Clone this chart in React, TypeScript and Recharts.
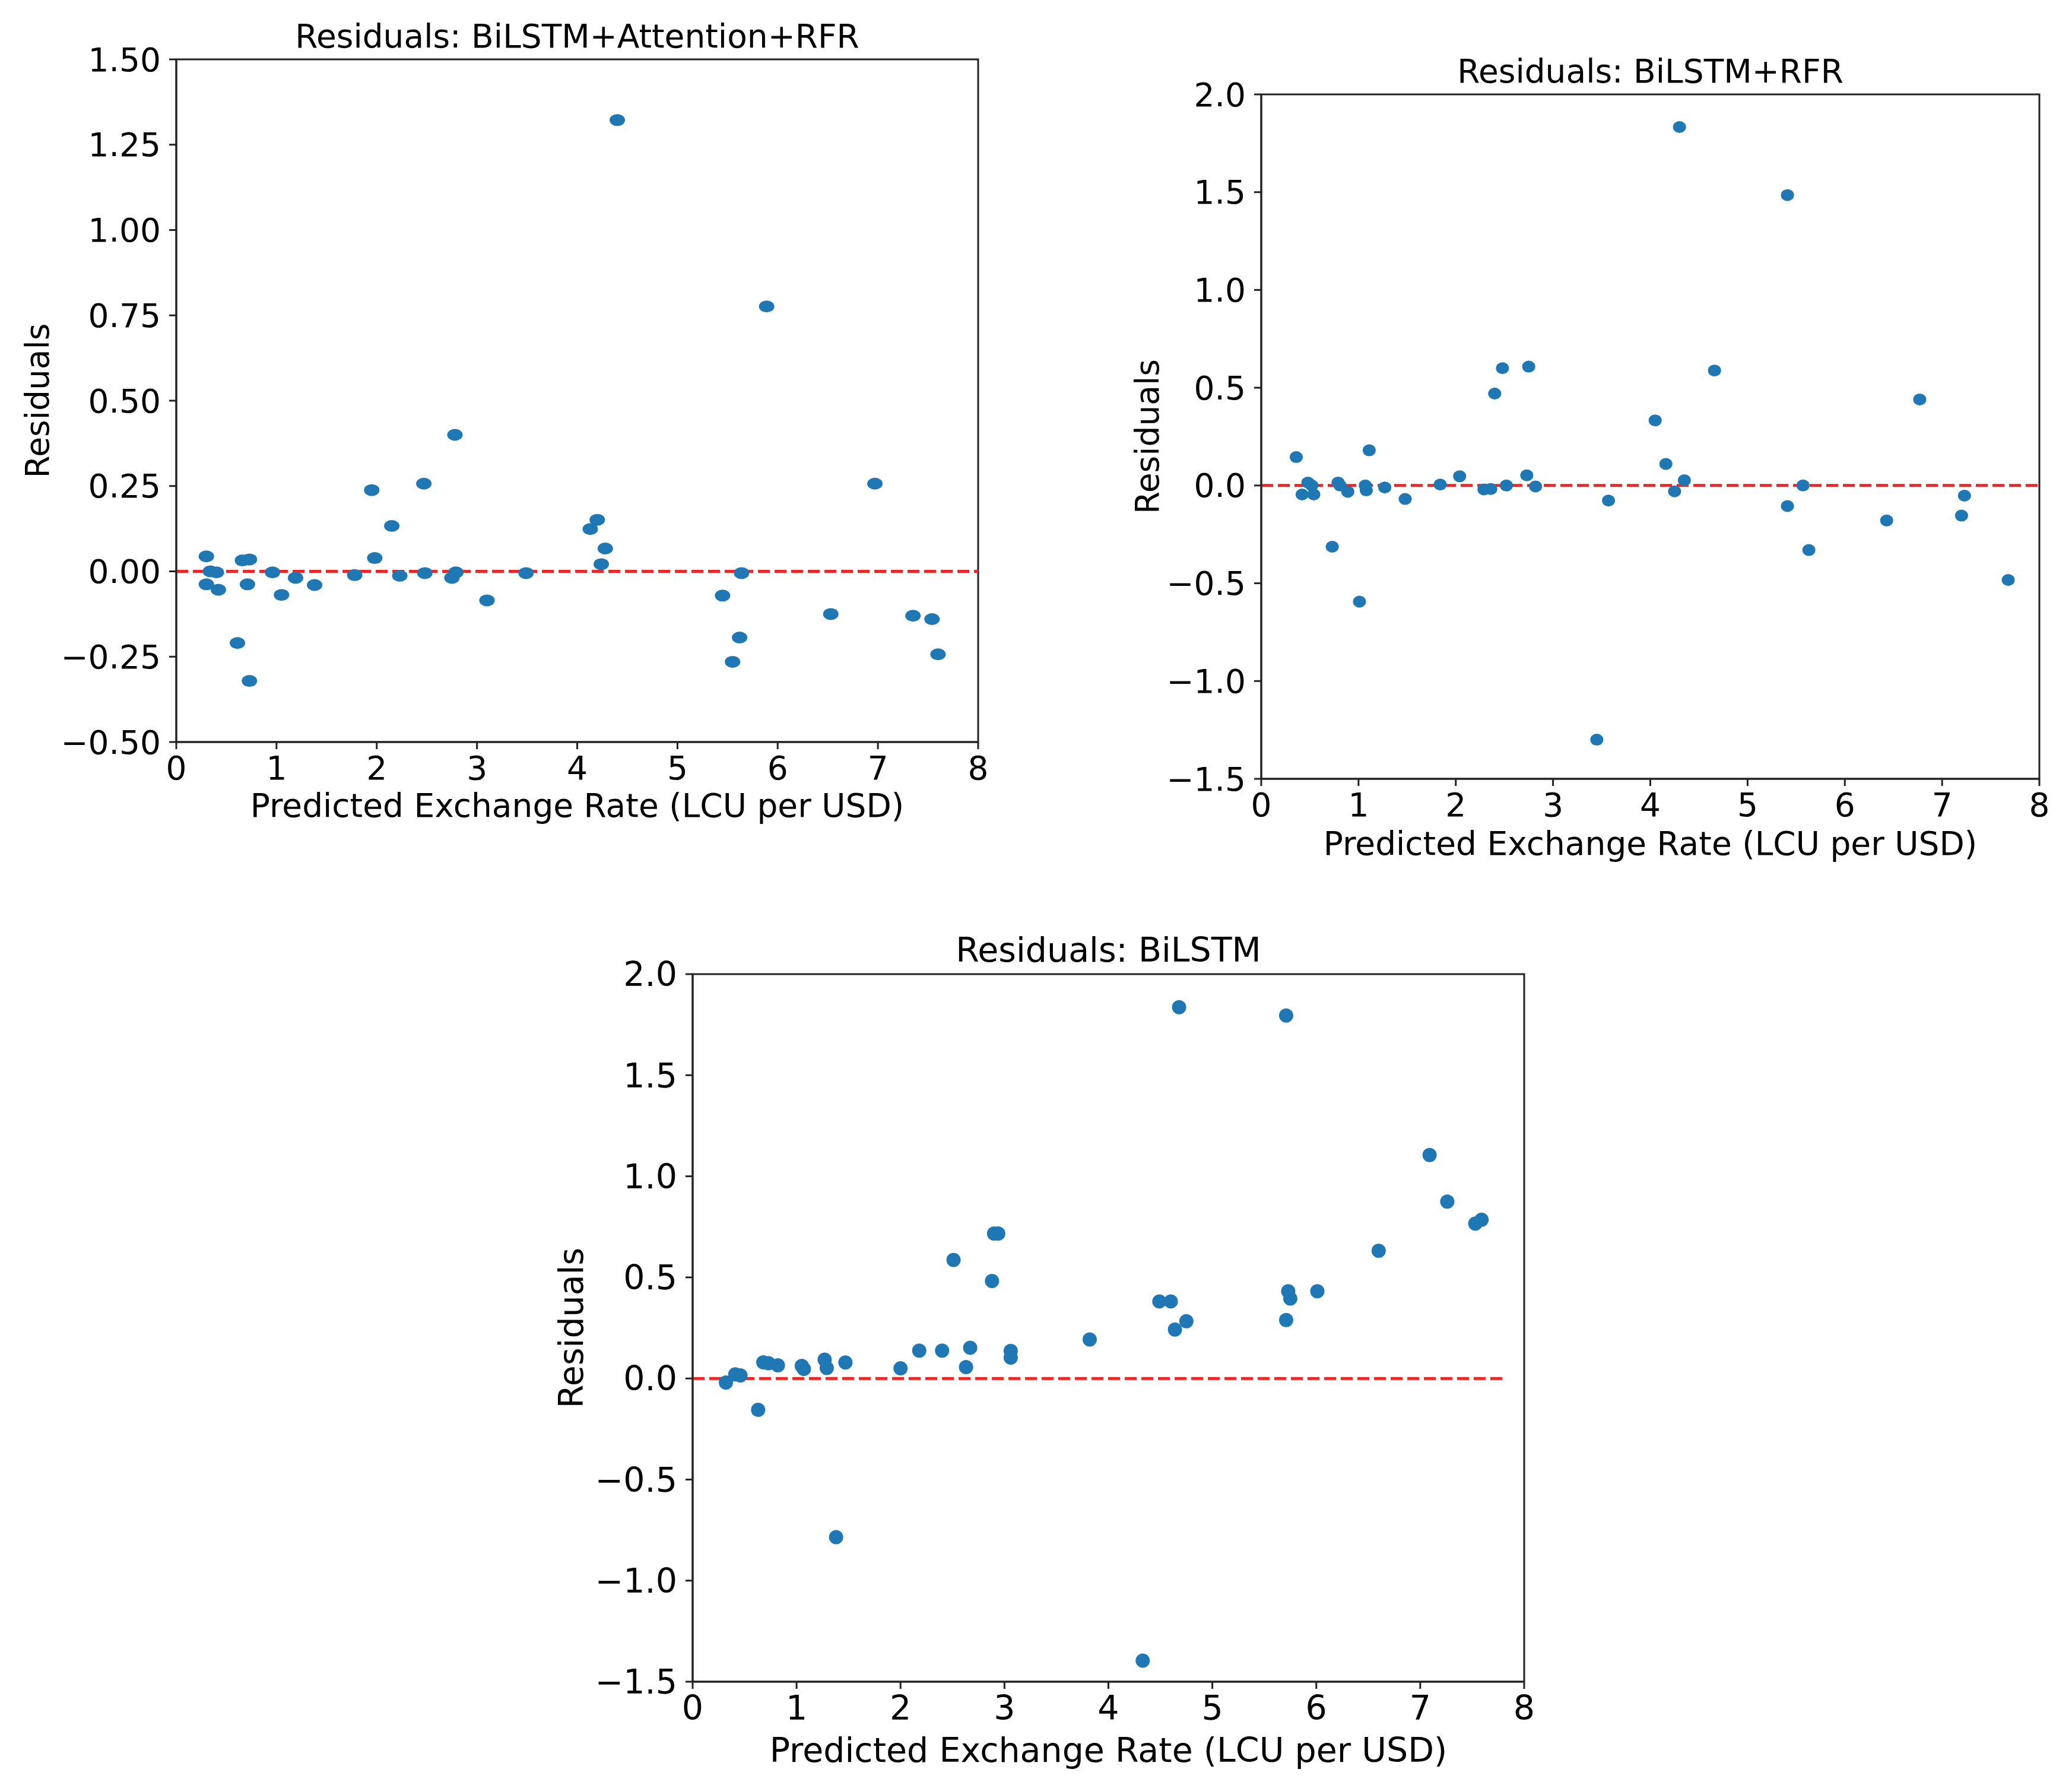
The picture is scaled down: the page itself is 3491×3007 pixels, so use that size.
import {
  ScatterChart,
  Scatter,
  XAxis,
  YAxis,
  ReferenceLine,
  ReferenceArea,
} from "recharts";

const xTicks = [0, 1, 2, 3, 4, 5, 6, 7, 8];
const attnTicks = [-0.5, -0.25, 0, 0.25, 0.5, 0.75, 1, 1.25, 1.5];
const rfrTicks = [-1.5, -1, -0.5, 0, 0.5, 1, 1.5, 2];

// BiLSTM+Attention+RFR
const attnPred = [
  0.3, 0.3, 0.34, 0.4, 0.42, 0.61, 0.66, 0.73, 0.71, 0.73, 0.96, 1.05, 1.19,
  1.38, 1.78, 1.95, 1.98, 2.15, 2.23, 2.47, 2.48, 2.78, 2.79, 2.75, 3.1, 3.49,
  4.13, 4.2, 4.28, 4.24, 4.4, 5.45, 5.55, 5.62, 5.64, 5.89, 6.53, 6.97, 7.35,
  7.54, 7.6,
];
const attnResid = [
  0.044, -0.038, 0.0, -0.003, -0.054, -0.21, 0.032, 0.035, -0.038, -0.321,
  -0.003, -0.069, -0.019, -0.04, -0.011, 0.238, 0.039, 0.133, -0.013, 0.257,
  -0.005, 0.4, -0.003, -0.019, -0.085, -0.005, 0.124, 0.151, 0.067, 0.021,
  1.322, -0.071, -0.265, -0.194, -0.005, 0.776, -0.125, 0.257, -0.13, -0.14,
  -0.243,
];

// BiLSTM+RFR
const rfrPred = [
  0.36, 0.42, 0.48, 0.52, 0.54, 0.73, 0.79, 0.81, 0.89, 1.01, 1.07, 1.08, 1.11,
  1.27, 1.48, 1.84, 2.04, 2.29, 2.36, 2.4, 2.48, 2.52, 2.73, 2.75, 2.82, 3.45,
  3.57, 4.05, 4.16, 4.25, 4.3, 4.35, 4.66, 5.41, 5.41, 5.57, 5.63, 6.43, 6.77,
  7.2, 7.23, 7.68,
];
const rfrResid = [
  0.145, -0.046, 0.015, 0.0, -0.046, -0.313, 0.015, 0.0, -0.032, -0.594, 0.0,
  -0.025, 0.18, -0.01, -0.069, 0.005, 0.047, -0.02, -0.018, 0.47, 0.6, 0.0,
  0.052, 0.608, -0.005, -1.3, -0.077, 0.333, 0.11, -0.03, 1.833, 0.027, 0.588,
  1.485, -0.105, 0.0, -0.33, -0.179, 0.44, -0.154, -0.052, -0.483,
];

// BiLSTM
const lstmPred = [
  0.32, 0.41, 0.46, 0.63, 0.68, 0.73, 0.82, 1.05, 1.07, 1.27, 1.29, 1.38, 1.47,
  2.0, 2.18, 2.4, 2.51, 2.63, 2.67, 2.88, 2.9, 2.94, 3.06, 3.06, 3.82, 4.33,
  4.49, 4.6, 4.64, 4.68, 4.75, 5.71, 5.71, 5.73, 5.75, 6.01, 6.6, 7.09, 7.26,
  7.53, 7.59,
];
const lstmResid = [
  -0.02, 0.02, 0.015, -0.155, 0.08, 0.075, 0.065, 0.062, 0.047, 0.093, 0.052,
  -0.785, 0.079, 0.05, 0.138, 0.138, 0.586, 0.056, 0.152, 0.482, 0.717, 0.717,
  0.136, 0.103, 0.193, -1.396, 0.381, 0.381, 0.242, 1.836, 0.283, 1.795, 0.289,
  0.431, 0.395, 0.431, 0.632, 1.105, 0.875, 0.766, 0.785,
];

const xLabel = "Predicted Exchange Rate (LCU per USD)";
const yLabel = "Residuals";
const FONT = "DejaVu Sans";
const DOT = "#1f77b4";
const INK = "#222";

const toPoints = (xs: number[], ys: number[]) =>
  xs.map((x, i) => ({ x, y: ys[i] }));

const fmt = (d: number) => (v: number) =>
  (v < 0 ? "\u2212" : "") + Math.abs(v).toFixed(d);

type PanelProps = {
  title: string;
  points: { x: number; y: number }[];
  yTicks: number[];
  decimals: number;
  left: number;
  top: number;
  right: number;
  bottom: number;
  fs: number;
  rx: number;
  ry: number;
  lineEnd: number;
  titleY: number;
  xLabelY: number;
  yLabelX: number;
};

const Panel = (p: PanelProps) => {
  const yAxisW = 200;
  const mTop = 45;
  const mRight = 45;
  const xAxisH = 100;
  const w = yAxisW + (p.right - p.left) + mRight;
  const h = mTop + (p.bottom - p.top) + xAxisH;
  const yMin = p.yTicks[0];
  const yMax = p.yTicks[p.yTicks.length - 1];
  const cx = (p.left + p.right) / 2;
  const cy = (p.top + p.bottom) / 2;
  const tick = { fontSize: p.fs, fill: "#000", fontFamily: FONT };
  const line = { stroke: INK, strokeWidth: 3 };

  return (
    <>
      <div
        style={{
          position: "absolute",
          left: p.left - yAxisW,
          top: p.top - mTop,
        }}
      >
        <ScatterChart
          width={w}
          height={h}
          margin={{ top: mTop, right: mRight, bottom: 0, left: 0 }}
        >
          <XAxis
            type="number"
            dataKey="x"
            domain={[0, 8]}
            ticks={xTicks}
            interval={0}
            allowDataOverflow
            height={xAxisH}
            tick={tick}
            tickSize={12}
            tickMargin={12}
            tickLine={line}
            axisLine={line}
          />
          <YAxis
            type="number"
            dataKey="y"
            domain={[yMin, yMax]}
            ticks={p.yTicks}
            interval={0}
            allowDataOverflow
            width={yAxisW}
            tick={tick}
            tickFormatter={fmt(p.decimals)}
            tickSize={12}
            tickMargin={14}
            tickLine={line}
            axisLine={line}
          />
          <Scatter
            data={p.points}
            isAnimationActive={false}
            shape={(s: any) => (
              <ellipse cx={s.cx} cy={s.cy} rx={p.rx} ry={p.ry} fill={DOT} />
            )}
          />
          <ReferenceLine
            segment={[
              { x: 0, y: 0 },
              { x: p.lineEnd, y: 0 },
            ]}
            stroke="#ee2525"
            strokeWidth={5}
            strokeDasharray="20 8"
          />
          <ReferenceArea
            x1={0}
            x2={8}
            y1={yMin}
            y2={yMax}
            fill="none"
            fillOpacity={0}
            stroke={INK}
            strokeWidth={3}
          />
        </ScatterChart>
      </div>
      <svg
        width={3491}
        height={3007}
        style={{
          position: "absolute",
          left: 0,
          top: 0,
          pointerEvents: "none",
          overflow: "visible",
        }}
      >
        <g fontFamily={FONT} fontSize={p.fs} fill="#000" textAnchor="middle">
          <text x={cx} y={p.titleY}>
            {p.title}
          </text>
          <text x={cx} y={p.xLabelY}>
            {xLabel}
          </text>
          <text
            x={p.yLabelX}
            y={cy}
            transform={`rotate(-90 ${p.yLabelX} ${cy})`}
          >
            {yLabel}
          </text>
        </g>
      </svg>
    </>
  );
};

export default function App() {
  return (
    <div
      style={{
        position: "absolute",
        left: 0,
        top: 0,
        width: 3491,
        height: 3007,
        background: "#fff",
        overflow: "hidden",
      }}
    >
      <Panel
        title="Residuals: BiLSTM+Attention+RFR"
        points={toPoints(attnPred, attnResid)}
        yTicks={attnTicks}
        decimals={2}
        left={297}
        top={100}
        right={1648}
        bottom={1250}
        fs={55}
        rx={13}
        ry={10}
        lineEnd={8}
        titleY={80}
        xLabelY={1376}
        yLabelX={82}
      />
      <Panel
        title="Residuals: BiLSTM+RFR"
        points={toPoints(rfrPred, rfrResid)}
        yTicks={rfrTicks}
        decimals={1}
        left={2125}
        top={159}
        right={3436}
        bottom={1312}
        fs={55}
        rx={11}
        ry={10}
        lineEnd={8}
        titleY={139}
        xLabelY={1440}
        yLabelX={1952}
      />
      <Panel
        title="Residuals: BiLSTM"
        points={toPoints(lstmPred, lstmResid)}
        yTicks={rfrTicks}
        decimals={1}
        left={1167}
        top={1641}
        right={2568}
        bottom={2833}
        fs={57}
        rx={12}
        ry={12}
        lineEnd={7.83}
        titleY={1620}
        xLabelY={2968}
        yLabelX={982}
      />
    </div>
  );
}
